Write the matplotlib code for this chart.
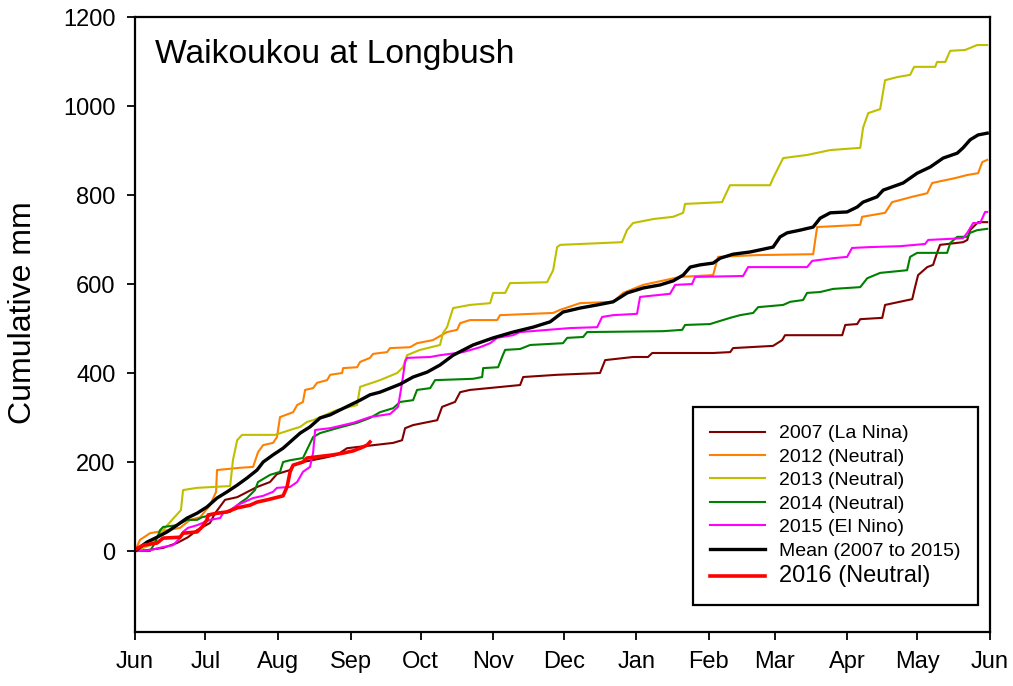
import matplotlib
matplotlib.use("Agg")
import matplotlib.pyplot as plt

plt.rcParams["font.family"] = ["Liberation Sans", "DejaVu Sans"]

# day 0 = 1 June, values in cumulative mm
month_days = [0, 30, 61, 92, 122, 153, 183, 214, 245, 273, 304, 334, 365]
month_labels = ["Jun", "Jul", "Aug", "Sep", "Oct", "Nov", "Dec",
                "Jan", "Feb", "Mar", "Apr", "May", "Jun"]

d2007 = [0, 5.1, 12, 17.9, 22.6, 26.5, 32, 34.2, 38.4, 43.6, 52.1, 57.6, 60.6, 66.2, 67.5,
         71.7, 80.3, 86.2, 90.5, 110.2, 114, 115.3, 118.7, 129, 131.1, 136.6, 138.8, 143,
         164.4, 165.7, 180.2, 198.5, 200.7, 212.6, 219, 220.8, 246.8, 254.1, 255.3, 272.4,
         276.3, 277.5, 301.9, 303.2, 308.3, 309.6, 319, 320.2, 331.8, 333, 334.3, 338.2,
         340.7, 342.4, 343.7, 353.5, 355.3, 356.5, 359.9, 363.8]
v2007 = [0, 2, 7, 18, 31, 47, 63, 85, 115, 121, 144, 155, 173, 182, 193,
         200, 209, 216, 231, 243, 249, 276, 283, 294, 324, 335, 357, 362,
         373, 391, 396, 400, 429, 436, 436, 445, 445, 447, 456, 461,
         474, 485, 485, 508, 510, 521, 524, 553, 566, 593, 620, 638,
         643, 670, 688, 694, 699, 721, 739, 739]

d2012 = [0, 2.1, 6.4, 19.2, 23.5, 27.8, 32, 34.6, 35, 44.8, 50.4, 52.5, 54.7, 58.9, 60.6,
         61.9, 67.5, 69.2, 71.7, 72.6, 76, 77.7, 82, 83.3, 88.4, 88.8, 94.8, 96.1, 100.3,
         101.6, 107.6, 108.9, 117.4, 120.4, 127.2, 133.2, 137.5, 138.8, 143, 154.6, 155.8,
         178.5, 181.5, 190, 204.1, 208.4, 216.9, 232.7, 246.8, 248.9, 265.6, 289.5, 291.2,
         309.6, 310.4, 320.2, 323.2, 331.8, 338.2, 340.3, 350.1, 355.3, 359.9, 361.7, 363.8]
v2012 = [0, 25, 40, 52, 70, 76, 103, 133, 182, 187, 189, 222, 238, 243, 256,
         301, 312, 328, 335, 362, 366, 378, 384, 396, 400, 411, 413, 425, 434,
         443, 447, 456, 458, 467, 474, 492, 497, 512, 519, 519, 530,
         535, 542, 557, 560, 580, 598, 616, 620, 661, 665, 667, 728,
         733, 751, 760, 784, 796, 804, 827, 838, 845, 849, 874, 879]

d2013 = [0, 6.4, 12.8, 15.8, 19.6, 20.5, 26.5, 40.6, 41.8, 43.6, 45.7, 59.8, 66.2, 70.5,
         73.4, 76, 86.2, 94.8, 96.1, 104.6, 111.9, 114.4, 116.1, 121.7, 130.2, 131.5, 133.2,
         135.8, 143, 151.6, 152.9, 158, 160.1, 175.9, 178.5, 180.2, 181.5, 207.9, 210, 212.6,
         221.2, 229.7, 234, 234.8, 250.6, 254, 271.1, 272.4, 276.7, 286.9, 296.8, 309.6,
         310.8, 313, 318.1, 320.2, 325.4, 330.9, 332.6, 341.6, 342.4, 345.9, 348, 354.4,
         359.5, 363.8]
v2013 = [0, 13, 52, 70, 92, 137, 142, 146, 204, 249, 261, 261, 272, 279,
         290, 294, 317, 328, 369, 384, 400, 413, 440, 452, 463, 490, 503,
         546, 553, 557, 580, 580, 602, 604, 631, 683, 688, 694, 721, 737,
         746, 751, 760, 780, 784, 822, 822, 838, 883, 890, 901, 906,
         951, 984, 993, 1058, 1065, 1070, 1088, 1088, 1099, 1099, 1124, 1126,
         1137, 1137]

d2014 = [0, 6.4, 8.5, 10.7, 12, 17.9, 22.2, 26.5, 28.6, 36.3, 40.6, 44.8, 47.8, 51.2, 52.5,
         57.6, 61.9, 63.2, 66.2, 71.7, 76, 79, 86.2, 94.8, 100.3, 104.6, 110.2, 113.2, 118.7,
         120.4, 126, 128.1, 144.3, 148.2, 148.6, 155, 156.7, 158, 164.4, 168.7, 182.7, 184.5,
         191.3, 193, 225.4, 233.6, 234.8, 245.5, 248.5, 254.1, 258.3, 263.9, 266, 276.7,
         279.7, 285.2, 286.9, 292.5, 298, 309.6, 312.6, 318.1, 329.6, 330.9, 333.9, 346.7,
         348, 351, 355.3, 356.5, 359.5, 363.8]
v2014 = [0, 0, 18, 47, 54, 58, 70, 70, 76, 85, 88, 108, 119, 137, 155,
         171, 178, 200, 204, 209, 256, 265, 276, 288, 299, 312, 321, 335, 339,
         362, 366, 384, 387, 391, 411, 413, 436, 452, 454, 463, 467, 479,
         481, 492, 494, 497, 508, 510, 515, 524, 530, 535, 548, 553,
         560, 564, 580, 582, 589, 593, 613, 625, 631, 661, 670, 670,
         692, 706, 706, 715, 721, 724]

d2015 = [0, 6.4, 12, 16.2, 19.2, 20.5, 22.6, 26.5, 32, 36.3, 37.6, 40.6, 43.6, 50.4, 54.7,
         58.9, 60.6, 66.2, 69.2, 71.7, 74.7, 76, 76.9, 83.3, 93.1, 100.3, 108.9, 112.3, 114,
         115.3, 116.1, 126, 130.2, 140, 147.3, 151.6, 154.6, 161.4, 164.4, 185.7, 197.3,
         199.4, 204.1, 214.3, 215.6, 228.4, 230.6, 237.8, 239.1, 259.6, 261.7, 286.9, 289.1,
         298, 304, 306.1, 313.8, 326.6, 337.3, 338.6, 353.5, 355.3, 357.8, 360.8, 362.9, 363.8]
v2015 = [0, 2, 9, 13, 29, 43, 52, 58, 70, 74, 85, 92, 103, 119, 124,
         133, 142, 144, 155, 178, 189, 220, 272, 276, 288, 301, 308, 324, 378,
         425, 434, 436, 440, 447, 458, 467, 479, 485, 492, 501, 503,
         526, 530, 533, 571, 578, 598, 600, 616, 618, 638, 638, 652,
         658, 661, 681, 683, 685, 690, 699, 703, 715, 737, 737, 762, 762]

d_mean = [0, 5.1, 9.4, 13.7, 17.9, 22.2, 26.5, 30.7, 35, 39.3, 43.6, 47.8, 52.1, 54.7, 58.9,
          63.2, 66.2, 70.5, 74.7, 79, 83.3, 87.5, 91.8, 96.1, 100.3, 104.6, 113.2, 118.7,
          124.7, 130.2, 135.8, 144.3, 152.9, 161.4, 169.9, 177.2, 182.7, 190, 197.3, 204.1,
          210.1, 216.9, 224.2, 229.7, 234, 237, 241.2, 246.8, 249.8, 255.3, 262.6, 272.4,
          275.4, 278.4, 283.9, 289.5, 292.5, 296.8, 304, 308.3, 310.8, 316.8, 319.4, 327.9,
          333.9, 339.5, 345, 351, 353.5, 356.5, 359.9, 363.8]
v_mean = [0, 20, 31, 43, 58, 74, 85, 99, 119, 133, 148, 164, 182, 200, 216,
          231, 245, 265, 279, 299, 306, 317, 328, 339, 351, 357, 375, 391,
          402, 418, 440, 463, 479, 492, 503, 515, 537, 546, 553, 560,
          580, 591, 598, 607, 620, 638, 643, 647, 658, 667, 672, 683,
          706, 715, 721, 728, 748, 760, 762, 773, 784, 796, 811, 827,
          849, 863, 883, 894, 906, 924, 935, 939]

d2016 = [0, 3.4, 9.4, 12, 19.2, 20.5, 26.5, 28.6, 30.7, 31.2, 35, 39.3, 43.6, 49.1, 52.1,
         56.4, 63.2, 64.9, 66.2, 67.5, 71.7, 73.4, 84.5, 88.8, 93.1, 96.1, 99.1, 100.3]
v2016 = [3, 13, 18, 29, 31, 40, 43, 54, 70, 81, 85, 88, 97, 103, 110,
         115, 124, 144, 178, 193, 200, 209, 216, 220, 225, 231, 238, 245]

series = [
    (d2007, v2007, "#800000", 1.5, "2007 (La Nina)"),
    (d2012, v2012, "#FF8000", 1.5, "2012 (Neutral)"),
    (d2013, v2013, "#BFBF00", 1.5, "2013 (Neutral)"),
    (d2014, v2014, "#008000", 1.5, "2014 (Neutral)"),
    (d2015, v2015, "#FF00FF", 1.5, "2015 (El Nino)"),
    (d_mean, v_mean, "black", 2.4, "Mean (2007 to 2015)"),
    (d2016, v2016, "#FF0000", 2.6, "2016 (Neutral)"),
]

fig = plt.figure(figsize=(10.13, 6.86), dpi=100)
ax = fig.add_axes([0.1333, 0.0787, 0.844, 0.8965])

for d, v, color, lw, label in series:
    ax.plot(d, v, color=color, lw=lw, label=label)

ax.set_xlim(0, 365)
ax.set_ylim(-182, 1200)
ax.set_xticks(month_days)
ax.set_xticklabels(month_labels)
ax.set_yticks(range(0, 1201, 200))
ax.tick_params(axis="both", direction="out", length=6, width=1.3, labelsize=17, pad=8)

for sp in ax.spines.values():
    sp.set_linewidth(1.6)

ax.set_ylabel("Cumulative mm", fontsize=23)
ax.yaxis.set_label_coords(-0.113, 0.52)
ax.text(0.023, 0.925, "Waikoukou at Longbush", transform=ax.transAxes,
        fontsize=24.2, va="baseline", ha="left")

leg = ax.legend(loc="lower left", bbox_to_anchor=(0.6526, 0.044), fontsize=14,
                frameon=True, fancybox=False, edgecolor="black", framealpha=1,
                borderpad=0.9, labelspacing=0.3, handlelength=2.8, handletextpad=0.7,
                borderaxespad=0)
leg.get_frame().set_linewidth(1.6)
leg.get_texts()[-1].set_fontsize(17)

fig.savefig("out.png", dpi=100)
